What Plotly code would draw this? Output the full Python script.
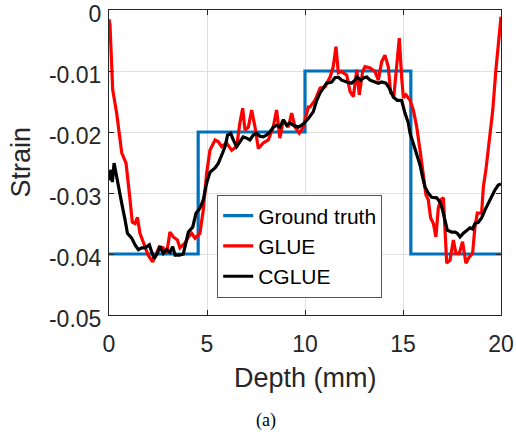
import plotly.graph_objects as go

# Ground truth (step profile)
gt_x = [0, 4.55, 4.55, 10, 10, 15.4, 15.4, 20]
gt_y = [-0.04, -0.04, -0.02, -0.02, -0.01, -0.01, -0.04, -0.04]

# GLUE
glue_x = [0.0, 0.05, 0.19, 0.39, 0.65, 0.87, 1.07, 1.19, 1.33, 1.45, 1.58, 1.75, 2.0, 2.23, 2.43,
          2.57, 2.77, 2.94, 3.11, 3.28, 3.49, 3.62, 3.88, 4.05, 4.22, 4.39, 4.64, 4.81, 4.98,
          5.15, 5.41, 5.58, 5.75, 6.0, 6.26, 6.51, 6.68, 6.82, 6.94, 7.11, 7.28, 7.45, 7.62,
          7.87, 8.13, 8.38, 8.55, 8.72, 8.89, 9.15, 9.32, 9.49, 9.71, 9.91, 10.17, 10.26,
          10.51, 10.77, 11.02, 11.28, 11.44, 11.58, 11.7, 11.87, 12.13, 12.3, 12.47, 12.64,
          12.77, 12.94, 13.06, 13.32, 13.57, 13.74, 13.91, 14.08, 14.25, 14.37, 14.54, 14.71,
          14.81, 14.93, 15.02, 15.15, 15.36, 15.53, 15.7, 15.87, 16.04, 16.17, 16.29, 16.41,
          16.55, 16.68, 16.8, 16.92, 17.06, 17.14, 17.23, 17.4, 17.57, 17.7, 17.87, 18.04,
          18.21, 18.38, 18.55, 18.67, 18.79, 19.01, 19.1, 19.23, 19.4, 19.58, 19.74, 19.9, 20.0]
glue_y = [-0.0015, -0.0025, -0.0131, -0.0169, -0.0234, -0.0251, -0.031, -0.0348, -0.035, -0.034,
          -0.0366, -0.0382, -0.0402, -0.0413, -0.0399, -0.0388, -0.039, -0.0399, -0.0364,
          -0.0372, -0.0377, -0.039, -0.0382, -0.0372, -0.0366, -0.0374, -0.0366, -0.0328,
          -0.0268, -0.023, -0.0213, -0.0216, -0.0224, -0.0218, -0.023, -0.0224, -0.0185,
          -0.0161, -0.0197, -0.0192, -0.0164, -0.0192, -0.0227, -0.0218, -0.0213, -0.0192,
          -0.0164, -0.021, -0.018, -0.0192, -0.0169, -0.0192, -0.0202, -0.0192, -0.0159,
          -0.0159, -0.0148, -0.0128, -0.0126, -0.011, -0.0093, -0.006, -0.0103, -0.0101,
          -0.0107, -0.0134, -0.0142, -0.0098, -0.0139, -0.0101, -0.0093, -0.0095, -0.0101,
          -0.0115, -0.0085, -0.0074, -0.0093, -0.0136, -0.0139, -0.0079, -0.0046, -0.011,
          -0.0144, -0.0139, -0.0148, -0.0164, -0.0192, -0.023, -0.0274, -0.0303, -0.0311,
          -0.0341, -0.035, -0.0372, -0.0325, -0.0311, -0.0308, -0.0366, -0.0415, -0.041,
          -0.0377, -0.0399, -0.0399, -0.038, -0.0415, -0.0405, -0.0399, -0.0356, -0.0333,
          -0.0333, -0.029, -0.0262, -0.0218, -0.0164, -0.0098, -0.0044, -0.0011]

# CGLUE
cglue_x = [0.0, 0.1, 0.17, 0.26, 0.36, 0.48, 0.65, 0.82, 0.94, 1.16, 1.33, 1.5, 1.67, 1.84, 2.06,
           2.18, 2.31, 2.47, 2.6, 2.77, 2.94, 3.11, 3.25, 3.37, 3.59, 3.79, 3.93, 4.05, 4.27,
           4.44, 4.64, 4.81, 4.98, 5.15, 5.41, 5.58, 5.8, 5.92, 6.05, 6.21, 6.34, 6.51, 6.68,
           6.85, 7.02, 7.19, 7.36, 7.53, 7.7, 7.87, 8.04, 8.21, 8.38, 8.55, 8.72, 8.89, 9.07,
           9.23, 9.4, 9.66, 9.91, 10.17, 10.42, 10.6, 10.77, 10.93, 11.1, 11.36, 11.53, 11.7,
           11.87, 12.13, 12.38, 12.55, 12.67, 12.84, 13.01, 13.15, 13.32, 13.57, 13.74, 13.91,
           14.13, 14.3, 14.51, 14.71, 14.93, 15.1, 15.27, 15.36, 15.53, 15.7, 15.87, 16.0,
           16.12, 16.29, 16.46, 16.72, 16.89, 17.02, 17.14, 17.26, 17.48, 17.65, 17.77, 17.91,
           18.08, 18.25, 18.42, 18.55, 18.67, 18.84, 19.01, 19.18, 19.35, 19.52, 19.69, 19.86, 20.0]
cglue_y = [-0.0279, -0.0262, -0.0282, -0.0251, -0.0268, -0.029, -0.0317, -0.0344, -0.0366,
           -0.0374, -0.0385, -0.0393, -0.039, -0.039, -0.0385, -0.0397, -0.0407, -0.0399,
           -0.0388, -0.0399, -0.0393, -0.0397, -0.0388, -0.0402, -0.0402, -0.04, -0.0377,
           -0.0364, -0.0356, -0.0333, -0.0325, -0.0311, -0.0284, -0.0266, -0.0259, -0.0251,
           -0.0234, -0.0224, -0.0205, -0.0202, -0.0213, -0.0224, -0.0216, -0.0208, -0.021,
           -0.0213, -0.0205, -0.0202, -0.0207, -0.0208, -0.0205, -0.02, -0.0192, -0.0189,
           -0.0192, -0.018, -0.0189, -0.0185, -0.0189, -0.0192, -0.0187, -0.0178, -0.0167,
           -0.0148, -0.0136, -0.0128, -0.012, -0.0118, -0.0111, -0.011, -0.0115, -0.0118,
           -0.012, -0.0115, -0.011, -0.0115, -0.0111, -0.011, -0.0115, -0.0118, -0.012,
           -0.0118, -0.012, -0.0128, -0.0143, -0.0148, -0.0148, -0.0169, -0.0185, -0.0202,
           -0.0218, -0.0234, -0.0254, -0.0274, -0.029, -0.03, -0.0307, -0.0308, -0.0315,
           -0.0328, -0.0344, -0.0361, -0.0364, -0.0364, -0.0366, -0.0372, -0.0366, -0.0361,
           -0.0357, -0.0359, -0.035, -0.0348, -0.0341, -0.0328, -0.0317, -0.0307, -0.0295,
           -0.0287, -0.0285]

x_ticks = [0, 5, 10, 15, 20]
y_ticks = [0, -0.01, -0.02, -0.03, -0.04, -0.05]
y_tick_labels = ["0", "-0.01", "-0.02", "-0.03", "-0.04", "-0.05"]

FONT = "Liberation Sans, Arial, Helvetica, sans-serif"
TXT = "#262626"

fig = go.Figure()
fig.add_trace(go.Scatter(x=gt_x, y=gt_y, mode="lines", name="Ground truth",
                         line=dict(color="#0072BD", width=3.2)))
fig.add_trace(go.Scatter(x=glue_x, y=glue_y, mode="lines", name="GLUE",
                         line=dict(color="#FF0000", width=3.2)))
fig.add_trace(go.Scatter(x=cglue_x, y=cglue_y, mode="lines", name="CGLUE",
                         line=dict(color="#000000", width=3.2)))

axis_common = dict(showline=True, linecolor=TXT, linewidth=1, mirror="ticks",
                   ticks="inside", ticklen=5, tickcolor=TXT,
                   showgrid=True, gridcolor="#DFDFDF", gridwidth=1, zeroline=False,
                   automargin=False, ticklabeloverflow="allow",
                   tickfont=dict(family=FONT, size=23, color=TXT))

fig.update_layout(
    width=516, height=434,
    margin=dict(l=109, r=15, t=10, b=119),
    paper_bgcolor="white", plot_bgcolor="white",
    showlegend=True,
    legend=dict(x=0.276, y=0.395, xanchor="left", yanchor="top",
                bgcolor="white", bordercolor="#555555", borderwidth=1,
                font=dict(family=FONT, size=21, color="#000000"),
                tracegroupgap=0, itemwidth=30),
    xaxis=dict(range=[0, 20], tickvals=x_ticks, ticklabelstandoff=8, **axis_common),
    yaxis=dict(range=[-0.05, 0], tickvals=y_ticks, ticktext=y_tick_labels,
               ticklabelshift=4, ticklabelstandoff=2, **axis_common),
    annotations=[
        dict(text="Depth (mm)", xref="paper", yref="paper", x=0.5, y=-0.205,
             xanchor="center", yanchor="middle", showarrow=False,
             font=dict(family=FONT, size=27, color=TXT)),
        dict(text="Strain", xref="paper", yref="paper", x=-0.227, y=0.5,
             xanchor="center", yanchor="middle", showarrow=False, textangle=-90,
             font=dict(family=FONT, size=27, color=TXT)),
        dict(text="(a)", xref="paper", yref="paper", x=0.4, y=-0.345,
             xanchor="center", yanchor="middle", showarrow=False,
             font=dict(family="Liberation Serif, Times New Roman, serif", size=18, color="#000000")),
    ],
)

fig.write_html("out.html")
